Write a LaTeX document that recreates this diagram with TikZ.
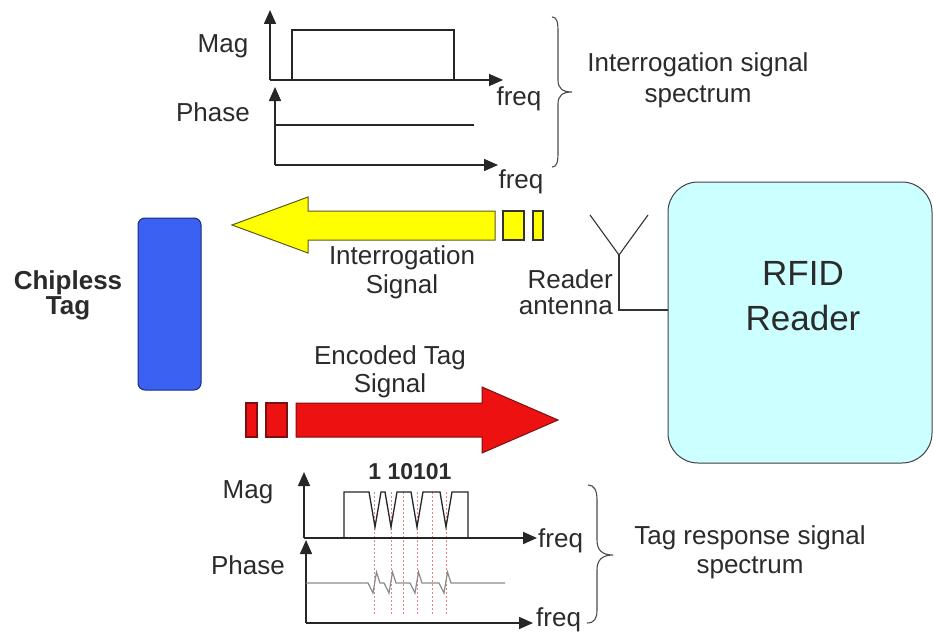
\documentclass[tikz,border=0pt]{standalone}
\usepackage{fontspec}
\setmainfont{Liberation Sans}
\usetikzlibrary{arrows.meta}
\definecolor{txt}{HTML}{2B2B2B}
\definecolor{yel}{HTML}{FFFF00}
\definecolor{yelb}{HTML}{5A5A20}
\definecolor{redf}{HTML}{EE1111}
\definecolor{redb}{HTML}{7A1010}
\definecolor{bluef}{HTML}{3A62F2}
\definecolor{blueb}{HTML}{1A2A80}
\definecolor{cyanf}{HTML}{CCFFFF}
\definecolor{dotred}{HTML}{E08080}
\tikzset{
  lbl/.style={font=\fontsize{26}{29}\selectfont, text=txt, inner sep=0pt, align=center},
  axis/.style={line width=1.5pt, draw=black!85, -{Triangle[length=14pt,width=12pt]}},
  thin line/.style={line width=1.3pt, draw=black!85},
  bracestyle/.style={line width=1.1pt, draw=black!70},
}
\begin{document}
\begin{tikzpicture}[x=1pt,y=-1pt]
\useasboundingbox (0,0) rectangle (933,634);
\fill[white] (0,0) rectangle (933,634);

% ---------- top spectrum (interrogation) ----------
\coordinate (tm0) at (270,80);
\coordinate (tmy) at (270,10);
\coordinate (tmx) at (503,80);
\coordinate (tp0) at (275,165);
\coordinate (tpy) at (275,87);
\coordinate (tpx) at (498,165);
\draw[thin line] (292,80) rectangle (454,30);
\draw[axis] (tm0) -- (tmy);
\draw[axis] (tm0) -- (tmx);
\draw[axis] (tp0) -- (tpy);
\draw[axis] (tp0) -- (tpx);
\coordinate (tpl0) at (275,125);
\coordinate (tpl1) at (474,125);
\draw[thin line] (tpl0) -- (tpl1);
\node[lbl] (tmag) at (223,46) {Mag};
\node[lbl] (tphase) at (213,112) {Phase};
\node[lbl] (tf1) at (519,99) {freq};
\node[lbl] (tf2) at (521,182) {freq};
\draw[bracestyle] (552,17) .. controls (557,17) and (558,22) .. (558,32) -- (558,80)
  .. controls (558,88) and (562,92) .. (572,92)
  .. controls (562,92) and (558,96) .. (558,104) -- (558,152)
  .. controls (558,162) and (557,167) .. (552,167);
\node[lbl, font=\fontsize{26}{31}\selectfont] (tspec) at (698,80) {Interrogation signal\\spectrum};

% ---------- yellow interrogation arrow ----------
\path[fill=yel, draw=yelb, line width=1pt] (232,225) -- (308,197) -- (308,211) -- (495,211)
  -- (495,240) -- (308,240) -- (308,253) -- cycle;
\draw[fill=yel, draw=black!80, line width=1.2pt] (503,211) rectangle (524,240);
\draw[fill=yel, draw=black!80, line width=1.2pt] (533,211) rectangle (543,240);
\node[lbl] (isig) at (402,272) {Interrogation\\Signal};

% ---------- chipless tag ----------
\node[draw=blueb, fill=bluef, line width=1pt, rounded corners=7pt, minimum width=63pt,
      minimum height=172pt, inner sep=0pt] (tag) at (169.5,304) {};
\node[lbl, font=\bfseries\fontsize{26}{25}\selectfont] (taglbl) at (68,295) {Chipless\\Tag};

% ---------- RFID reader ----------
\node[draw=black!75, fill=cyanf, line width=1pt, rounded corners=30pt, minimum width=264pt,
      minimum height=281pt, inner sep=0pt] (reader) at (800,322.5) {};
\node[lbl, font=\fontsize{35}{45}\selectfont] (rlbl) at (803,296) {RFID\\Reader};

% antenna
\coordinate (antl) at (590,215);
\coordinate (antr) at (648,215);
\coordinate (antb) at (619,255);
\coordinate (antc) at (619,310);
\draw[line width=1.1pt, draw=black!80] (antl) -- (antb) -- (antr);
\draw[line width=1.1pt, draw=black!80] (antb) -- (antc) -- (antc -| reader.west);
\node[lbl, font=\fontsize{26}{26}\selectfont, align=right, anchor=east] (antlbl) at (613,292) {Reader\\antenna};

% ---------- red encoded arrow ----------
\path[fill=redf, draw=redb, line width=1pt] (296,403) -- (482,403) -- (482,387) -- (558,420)
  -- (482,453) -- (482,437) -- (296,437) -- cycle;
\draw[fill=redf, draw=redb, line width=1.2pt] (246,403) rectangle (257,437);
\draw[fill=redf, draw=redb, line width=1.2pt] (266,403) rectangle (287,437);
\node[lbl, font=\fontsize{26}{28}\selectfont] (esig) at (390,372) {Encoded Tag\\Signal};

% ---------- bottom spectrum (tag response) ----------
\coordinate (bm0) at (304,538);
\coordinate (bmy) at (304,472);
\coordinate (bmx) at (537,538);
\coordinate (bp0) at (306,623);
\coordinate (bpy) at (306,540);
\coordinate (bpx) at (533,623);
% dotted markers
\foreach \xx in {374,391,403,417,432,446}
  \draw[dotred, line width=1pt, dash pattern=on 2pt off 2pt] (\xx,492) -- (\xx,615);
\draw[thin line, line join=miter] (344,538) -- (344,492) -- (369,492) -- (375,527) -- (381,492)
  -- (385,492) -- (391,527) -- (397,492) -- (411,492) -- (417,527) -- (423,492)
  -- (440,492) -- (446,527) -- (452,492) -- (468,492) -- (468,538);
\draw[axis, line width=1.8pt] (bm0) -- (bmx);
\draw[axis] (bm0) -- (bmy);
\draw[axis] (bp0) -- (bpy);
\draw[axis] (bp0) -- (bpx);
\draw[line width=1.2pt, draw=black!45] (306,583)
  -- (368,583) -- (373,593) -- (376.5,572) -- (380,583)
  -- (384,583) -- (389,593) -- (392.5,572) -- (396,583)
  -- (410,583) -- (415,593) -- (418.5,572) -- (422,583)
  -- (439,583) -- (444,593) -- (447.5,572) -- (451,583)
  -- (505,583);
\node[lbl, font=\bfseries\fontsize{23}{23}\selectfont] (bits) at (410,472) {1 10101};
\node[lbl] (bmag) at (248,492) {Mag};
\node[lbl] (bphase) at (248,565) {Phase};
\node[lbl, anchor=west] (bf1) at (538,541) {freq};
\node[lbl, anchor=west] (bf2) at (536,620) {freq};
\draw[bracestyle] (588,485) .. controls (594,485) and (597,490) .. (597,500) -- (597,540)
  .. controls (597,550) and (602,555) .. (613,555)
  .. controls (602,555) and (597,560) .. (597,570) -- (597,610)
  .. controls (597,619) and (594,623) .. (587,623);
\node[lbl, font=\fontsize{26}{29}\selectfont] (bspec) at (750,552) {Tag response signal\\spectrum};
\end{tikzpicture}
\end{document}
